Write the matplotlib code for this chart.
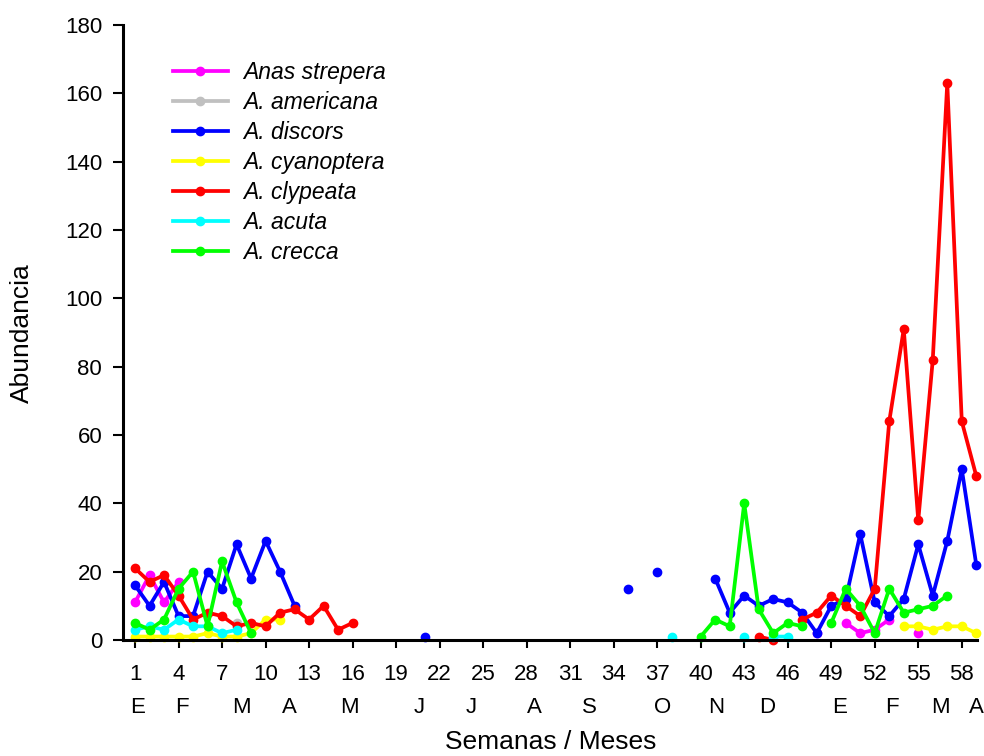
import numpy as np
import matplotlib
matplotlib.use('Agg')
import matplotlib.pyplot as plt
import matplotlib.transforms as mtransforms

plt.rcParams['font.family'] = ['Liberation Sans', 'DejaVu Sans']

# weekly counts per species (weeks without data are simply absent)
strepera_wk = [1, 2, 3, 4, 48, 50, 51, 52, 53, 55]
strepera = [11, 19, 11, 17, 2, 5, 2, 3, 6, 2]

americana_wk = [8]
americana = [5]

discors_wk = list(range(1, 13)) + [21, 35, 37] + list(range(41, 60))
discors = [16, 10, 17, 7, 7, 20, 15, 28, 18, 29, 20, 10,
           1, 15, 20,
           18, 8, 13, 10, 12, 11, 8, 2, 10, 12, 31, 11, 7, 12, 28, 13, 29, 50, 22]

cyanoptera_wk = list(range(1, 12)) + list(range(54, 60))
cyanoptera = [1, 1, 1, 1, 1, 2, 1, 1, 2, 6, 6,
              4, 4, 3, 4, 4, 2]

clypeata_wk = list(range(1, 17)) + [44, 45] + list(range(47, 60))
clypeata = [21, 17, 19, 13, 6, 8, 7, 4, 5, 4, 8, 9, 6, 10, 3, 5,
            1, 0,
            6, 8, 13, 10, 7, 15, 64, 91, 35, 82, 163, 64, 48]

acuta_wk = list(range(1, 9)) + [38, 43, 45, 46]
acuta = [3, 4, 3, 6, 4, 4, 2, 3, 1, 1, 1, 1]

crecca_wk = list(range(1, 10)) + list(range(40, 48)) + list(range(49, 58))
crecca = [5, 3, 6, 15, 20, 4, 23, 11, 2,
          1, 6, 4, 40, 9, 2, 5, 4,
          5, 15, 10, 2, 15, 8, 9, 10, 13]

species = ['Anas strepera', 'A. americana', 'A. discors', 'A. cyanoptera',
           'A. clypeata', 'A. acuta', 'A. crecca']
colors = ['#ff00ff', '#c0c0c0', '#0000ff', '#ffff00', '#ff0000', '#00ffff', '#00ff00']

week_ticks = list(range(1, 59, 3))
months = ['E', 'F', 'M', 'A', 'M', 'J', 'J', 'A', 'S', 'O', 'N', 'D', 'E', 'F', 'M', 'A']
month_pos = [1.2, 4.25, 8.35, 11.65, 15.8, 20.6, 24.2, 28.5, 32.3, 37.4,
             41.05, 44.6, 49.6, 53.2, 56.5, 59.0]


def with_gaps(wk, vals):
    # break the line wherever weeks are not consecutive
    xs, ys = [], []
    for i, (w, v) in enumerate(zip(wk, vals)):
        if i > 0 and w - wk[i - 1] > 1:
            xs.append(np.nan)
            ys.append(np.nan)
        xs.append(w)
        ys.append(v)
    return xs, ys


fig = plt.figure(figsize=(9.84, 7.56), dpi=100)
ax = fig.add_axes([123 / 984, 116 / 756, 854 / 984, 615 / 756])

series = [(strepera_wk, strepera), (americana_wk, americana), (discors_wk, discors),
          (cyanoptera_wk, cyanoptera), (clypeata_wk, clypeata), (acuta_wk, acuta),
          (crecca_wk, crecca)]
for (wk, vals), name, c in zip(series, species, colors):
    xs, ys = with_gaps(wk, vals)
    ax.plot(xs, ys, color=c, lw=2.7, marker='o', ms=6, label=name, clip_on=False)

ax.set_xlim(0.17, 59.05)
ax.set_ylim(0, 180)
ax.set_yticks(range(0, 181, 20))
ax.set_xticks(week_ticks)

for s in ['top', 'right']:
    ax.spines[s].set_visible(False)
for s in ['left', 'bottom']:
    ax.spines[s].set_linewidth(2.2)

ax.tick_params(axis='y', length=7, width=1.5, pad=8, labelsize=16)
ax.tick_params(axis='x', length=6, width=1.5, pad=11, labelsize=16)

trans = mtransforms.blended_transform_factory(ax.transData, ax.transAxes)
for m, p in zip(months, month_pos):
    ax.text(p, -0.1105, m, transform=trans, ha='center', va='center', fontsize=16)

ax.text(0.501, -0.166, 'Semanas / Meses', transform=ax.transAxes,
        ha='center', va='center', fontsize=19)
fig.text(22 / 984, 1 - 333 / 756, 'Abundancia', rotation=90,
         ha='center', va='center', fontsize=19)

leg = ax.legend(loc='upper left', bbox_to_anchor=(0.0585, 0.942), frameon=False,
                borderpad=0, borderaxespad=0, handlelength=2.4, handletextpad=0.65,
                labelspacing=0.31, prop={'style': 'italic', 'size': 16.5})

fig.savefig('out.png', dpi=100)
